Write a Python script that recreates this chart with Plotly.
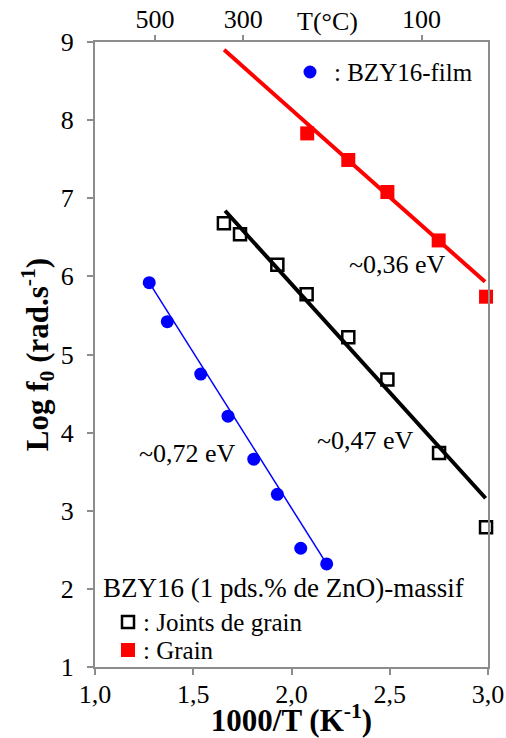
import plotly.graph_objects as go

# ---- data ----
film_x = [1.276, 1.368, 1.538, 1.677, 1.808, 1.928, 2.047, 2.179]
film_y = [5.92, 5.42, 4.75, 4.21, 3.66, 3.21, 2.52, 2.32]
film_fit_x = [1.276, 2.179]
film_fit_y = [5.92, 2.32]

jg_x = [1.656, 1.738, 1.928, 2.077, 2.289, 2.488, 2.751, 2.990]
jg_y = [6.68, 6.54, 6.15, 5.77, 5.22, 4.68, 3.74, 2.79]
jg_fit_x = [1.662, 2.988]
jg_fit_y = [6.84, 3.16]

grain_x = [2.080, 2.289, 2.488, 2.749, 2.990]
grain_y = [7.83, 7.49, 7.08, 6.46, 5.74]
grain_fit_x = [1.657, 2.985]
grain_fit_y = [8.90, 5.93]

x_ticks = [1.0, 1.5, 2.0, 2.5, 3.0]
x_ticktext = ["1,0", "1,5", "2,0", "2,5", "3,0"]
y_ticks = [1, 2, 3, 4, 5, 6, 7, 8, 9]
top_tickvals = [1.305, 1.755, 2.662]
top_ticktext = ["500", "300", "100"]

FONT = "Liberation Serif"
GREY = "#8c8c8c"

fig = go.Figure()
fig.add_trace(go.Scatter(x=film_fit_x, y=film_fit_y, mode="lines", cliponaxis=False,
                         line=dict(color="#0000ff", width=1.5), showlegend=False))
fig.add_trace(go.Scatter(x=film_x, y=film_y, mode="markers", cliponaxis=False,
                         marker=dict(color="#0000ff", size=13, symbol="circle"), showlegend=False))
fig.add_trace(go.Scatter(x=jg_x, y=jg_y, mode="markers", cliponaxis=False,
                         marker=dict(color="black", size=12, symbol="square-open",
                                     line=dict(width=2.5, color="black")), showlegend=False))
fig.add_trace(go.Scatter(x=jg_fit_x, y=jg_fit_y, mode="lines", cliponaxis=False,
                         line=dict(color="black", width=4), showlegend=False))
fig.add_trace(go.Scatter(x=grain_x, y=grain_y, mode="markers", cliponaxis=False,
                         marker=dict(color="#ff0000", size=14, symbol="square"), showlegend=False))
fig.add_trace(go.Scatter(x=grain_fit_x, y=grain_fit_y, mode="lines", cliponaxis=False,
                         line=dict(color="#ff0000", width=4), showlegend=False,
                         xaxis="x2"))

L, R, T, B = 95, 18, 42, 71
W, H = 506, 738
PW, PH = W - L - R, H - T - B


def px(xp):
    return (xp - L) / PW


def py(yp):
    return (H - B - yp) / PH


def tfont(size=25):
    return dict(size=size, family=FONT, color="black")


def note(text, x, y, size, xanchor="center", ref="paper"):
    return dict(text=text, x=x, y=y, xref=ref if ref == "paper" else "x",
                yref=ref if ref == "paper" else "y", xanchor=xanchor, yanchor="middle",
                showarrow=False, font=tfont(size))


annotations = [
    note("T(°C)", px(327), py(22), 26),
    note("~0,36 eV", 2.537, 6.15, 26, ref="data"),
    note("~0,47 eV", 2.379, 3.90, 26, ref="data"),
    note("~0,72 eV", 1.473, 3.73, 26, ref="data"),
    note(": BZY16-film", px(332), py(72), 25, xanchor="left"),
    note("BZY16 (1 pds.% de ZnO)-massif", px(101), py(588), 27, xanchor="left"),
    note(": Joints de grain", px(141), py(622), 25, xanchor="left"),
    note(": Grain", px(141), py(650), 25, xanchor="left"),
]

shapes = [
    dict(type="circle", xref="paper", yref="paper", x0=px(303.5), x1=px(316.5),
         y0=py(78.5), y1=py(65.5), fillcolor="#0000ff", line=dict(width=0)),
    dict(type="rect", xref="paper", yref="paper", x0=px(122), x1=px(134),
         y0=py(628), y1=py(616), fillcolor="white", line=dict(width=2.5, color="black")),
    dict(type="rect", xref="paper", yref="paper", x0=px(121), x1=px(135),
         y0=py(657), y1=py(643), fillcolor="#ff0000", line=dict(width=0)),
]

fig.update_layout(
    width=W, height=H,
    margin=dict(l=L, r=R, t=T, b=B, autoexpand=False),
    paper_bgcolor="white", plot_bgcolor="white",
    font=tfont(),
    showlegend=False,
    xaxis=dict(range=[1, 3], tickvals=x_ticks, ticktext=x_ticktext, automargin=False,
               showgrid=False, zeroline=False, showline=True, linecolor=GREY, linewidth=2,
               mirror=True, ticks="outside", ticklen=6, tickwidth=2, tickcolor=GREY,
               tickfont=tfont(26), ticklabelstandoff=-3,
               title=dict(text="<b>1000/T (K<sup>-1</sup>)</b>", font=tfont(31), standoff=4)),
    xaxis2=dict(range=[1, 3], overlaying="x", side="top", tickvals=top_tickvals,
                ticktext=top_ticktext, showgrid=False, zeroline=False, showline=False,
                automargin=False, ticklabelstandoff=-3,
                ticks="outside", ticklen=6, tickwidth=2, tickcolor=GREY,
                tickfont=tfont(26)),
    yaxis=dict(range=[1, 9], tickvals=y_ticks, showgrid=False, zeroline=False, automargin=False,
               showline=True, linecolor=GREY, linewidth=2, mirror=True,
               ticks="outside", ticklen=6, tickwidth=2, tickcolor=GREY,
               tickfont=tfont(26), ticklabelstandoff=8,
               title=dict(text="<b>Log f<sub>0</sub> (rad.s<sup>-1</sup>)</b>",
                          font=tfont(31), standoff=3)),
    annotations=annotations,
    shapes=shapes,
)

fig.write_html("out.html", config={"displayModeBar": False},
               post_script="document.body.style.margin='0';")
